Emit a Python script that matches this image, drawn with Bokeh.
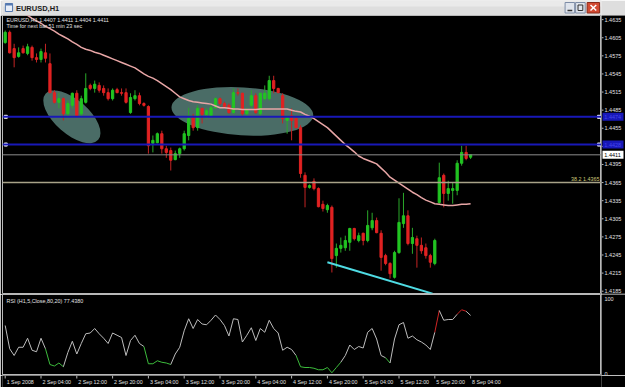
from bokeh.plotting import figure
from bokeh.layouts import column, row
from bokeh.models import Range1d, Span, Label
from bokeh.embed import file_html
from bokeh.resources import INLINE
from bokeh.core.properties import value

FONT = "Liberation Sans"

# ------------------------------------------------------------------ data
symbol = "EURUSD,H1"
time_ticks = [0, 8, 16, 24, 32, 40, 48, 56, 64, 72, 80, 88, 96, 104]
time_labels = ["1 Sep 2008", "2 Sep 04:00", "2 Sep 12:00", "2 Sep 20:00",
               "3 Sep 04:00", "3 Sep 12:00", "3 Sep 20:00", "4 Sep 04:00",
               "4 Sep 12:00", "4 Sep 20:00", "5 Sep 04:00", "5 Sep 12:00",
               "5 Sep 20:00", "8 Sep 04:00"]
price_ticks = [1.4185, 1.4215, 1.4245, 1.4275, 1.4305, 1.4335, 1.4365, 1.4395,
               1.4425, 1.4455, 1.4485, 1.4515, 1.4545, 1.4575, 1.4605, 1.4635]
rsi_ticks = [0, 100]

opens = [
    1.4597, 1.4614, 1.4587, 1.4574, 1.4587, 1.4579, 1.4589, 1.4572, 1.4569, 1.4580,
    1.4562, 1.4514, 1.4498, 1.4504, 1.4479, 1.4493, 1.4513, 1.4479, 1.4498, 1.4526,
    1.4521, 1.4526, 1.4521, 1.4514, 1.4504, 1.4519, 1.4514, 1.4514, 1.4481, 1.4504,
    1.4509, 1.4496, 1.4491, 1.4430, 1.4431, 1.4446, 1.4421, 1.4418, 1.4403, 1.4413,
    1.4421, 1.4443, 1.4473, 1.4456, 1.4488, 1.4478, 1.4476, 1.4489, 1.4504, 1.4496,
    1.4493, 1.4481, 1.4514, 1.4513, 1.4479, 1.4493, 1.4509, 1.4479, 1.4504, 1.4504,
    1.4534, 1.4521, 1.4509, 1.4468, 1.4476, 1.4471, 1.4456, 1.4377, 1.4357, 1.4367,
    1.4355, 1.4329, 1.4320, 1.4324, 1.4244, 1.4256, 1.4257, 1.4266, 1.4289, 1.4269,
    1.4281, 1.4269, 1.4290, 1.4302, 1.4281, 1.4244, 1.4231, 1.4208, 1.4249, 1.4297,
    1.4310, 1.4264, 1.4272, 1.4261, 1.4257, 1.4244, 1.4231, 1.4332, 1.4377, 1.4347,
    1.4352, 1.4352, 1.4397, 1.4415, 1.4407]
highs = [
    1.4617, 1.4617, 1.4595, 1.4589, 1.4592, 1.4595, 1.4592, 1.4579, 1.4587, 1.4595,
    1.4579, 1.4518, 1.4514, 1.4506, 1.4501, 1.4514, 1.4518, 1.4509, 1.4546, 1.4529,
    1.4534, 1.4531, 1.4526, 1.4521, 1.4521, 1.4522, 1.4521, 1.4521, 1.4513, 1.4518,
    1.4514, 1.4498, 1.4493, 1.4443, 1.4448, 1.4451, 1.4426, 1.4423, 1.4418, 1.4423,
    1.4451, 1.4489, 1.4479, 1.4493, 1.4489, 1.4488, 1.4493, 1.4506, 1.4506, 1.4499,
    1.4496, 1.4521, 1.4521, 1.4514, 1.4489, 1.4518, 1.4513, 1.4514, 1.4526, 1.4542,
    1.4542, 1.4522, 1.4513, 1.4476, 1.4488, 1.4473, 1.4460, 1.4382, 1.4362, 1.4372,
    1.4357, 1.4335, 1.4330, 1.4327, 1.4264, 1.4274, 1.4277, 1.4290, 1.4290, 1.4282,
    1.4282, 1.4319, 1.4315, 1.4307, 1.4286, 1.4247, 1.4233, 1.4252, 1.4339, 1.4348,
    1.4319, 1.4290, 1.4277, 1.4274, 1.4264, 1.4247, 1.4272, 1.4398, 1.4380, 1.4368,
    1.4365, 1.4402, 1.4426, 1.4426, 1.4411]
lows = [
    1.4595, 1.4579, 1.4556, 1.4572, 1.4579, 1.4576, 1.4567, 1.4564, 1.4564, 1.4564,
    1.4513, 1.4496, 1.4488, 1.4468, 1.4473, 1.4488, 1.4473, 1.4473, 1.4496, 1.4518,
    1.4514, 1.4514, 1.4509, 1.4501, 1.4501, 1.4513, 1.4509, 1.4496, 1.4479, 1.4501,
    1.4493, 1.4491, 1.4413, 1.4415, 1.4430, 1.4413, 1.4406, 1.4385, 1.4402, 1.4406,
    1.4418, 1.4435, 1.4451, 1.4451, 1.4463, 1.4471, 1.4473, 1.4488, 1.4493, 1.4488,
    1.4479, 1.4479, 1.4509, 1.4476, 1.4476, 1.4489, 1.4479, 1.4476, 1.4501, 1.4501,
    1.4513, 1.4513, 1.4463, 1.4446, 1.4435, 1.4455, 1.4373, 1.4324, 1.4355, 1.4352,
    1.4324, 1.4317, 1.4315, 1.4216, 1.4224, 1.4249, 1.4252, 1.4252, 1.4269, 1.4266,
    1.4261, 1.4266, 1.4286, 1.4281, 1.4219, 1.4228, 1.4206, 1.4206, 1.4247, 1.4290,
    1.4261, 1.4247, 1.4224, 1.4247, 1.4239, 1.4224, 1.4228, 1.4330, 1.4324, 1.4335,
    1.4330, 1.4344, 1.4393, 1.4402, 1.4404]
closes = [
    1.4614, 1.4580, 1.4572, 1.4580, 1.4580, 1.4590, 1.4572, 1.4569, 1.4582, 1.4571,
    1.4514, 1.4498, 1.4504, 1.4479, 1.4496, 1.4513, 1.4476, 1.4504, 1.4521, 1.4521,
    1.4528, 1.4518, 1.4514, 1.4504, 1.4518, 1.4514, 1.4513, 1.4498, 1.4506, 1.4509,
    1.4496, 1.4493, 1.4426, 1.4435, 1.4446, 1.4421, 1.4415, 1.4402, 1.4413, 1.4421,
    1.4446, 1.4471, 1.4456, 1.4488, 1.4478, 1.4484, 1.4489, 1.4504, 1.4496, 1.4491,
    1.4481, 1.4514, 1.4513, 1.4479, 1.4486, 1.4509, 1.4481, 1.4513, 1.4513, 1.4534,
    1.4521, 1.4514, 1.4471, 1.4473, 1.4468, 1.4456, 1.4380, 1.4357, 1.4360, 1.4355,
    1.4325, 1.4322, 1.4327, 1.4239, 1.4256, 1.4261, 1.4269, 1.4289, 1.4272, 1.4277,
    1.4269, 1.4294, 1.4302, 1.4282, 1.4241, 1.4231, 1.4214, 1.4249, 1.4299, 1.4310,
    1.4264, 1.4274, 1.4261, 1.4252, 1.4244, 1.4233, 1.4269, 1.4373, 1.4347, 1.4355,
    1.4355, 1.4397, 1.4415, 1.4405, 1.4411]
ma_values = [
    1.4663, 1.4659, 1.4654, 1.4650, 1.4646, 1.4642, 1.4637, 1.4633, 1.4629, 1.4624,
    1.4620, 1.4616, 1.4611, 1.4607, 1.4603, 1.4598, 1.4594, 1.4589, 1.4586, 1.4584,
    1.4581, 1.4579, 1.4576, 1.4573, 1.4570, 1.4567, 1.4564, 1.4561, 1.4558, 1.4555,
    1.4550, 1.4545, 1.4541, 1.4538, 1.4534, 1.4529, 1.4524, 1.4519, 1.4513, 1.4507,
    1.4504, 1.4501, 1.4499, 1.4498, 1.4497, 1.4496, 1.4495, 1.4492, 1.4489, 1.4489,
    1.4488, 1.4487, 1.4487, 1.4486, 1.4486, 1.4486, 1.4486, 1.4487, 1.4487, 1.4487,
    1.4487, 1.4487, 1.4487, 1.4487, 1.4485, 1.4483, 1.4482, 1.4478, 1.4475, 1.4471,
    1.4466, 1.4461, 1.4456, 1.4449, 1.4442, 1.4435, 1.4428, 1.4422, 1.4416, 1.4409,
    1.4405, 1.4402, 1.4399, 1.4396, 1.4389, 1.4382, 1.4374, 1.4369, 1.4364, 1.4359,
    1.4354, 1.4349, 1.4345, 1.4340, 1.4336, 1.4333, 1.4330, 1.4329, 1.4328, 1.4327,
    1.4327, 1.4328, 1.4329, 1.4329, 1.4330]
rsi_values = [
    64, 33, 24, 35, 35, 47, 31, 29, 47, 33,
    12, 10, 14, 9, 28, 43, 26, 40, 53, 54,
    60, 53, 47, 40, 54, 51, 48, 24, 44, 51,
    40, 36, 13, 13, 17, 15, 14, 12, 26, 35,
    57, 73, 60, 72, 66, 65, 71, 78, 72, 64,
    50, 73, 72, 42, 51, 61, 44, 60, 55, 71,
    60, 54, 31, 35, 32, 24, 9, 8, 8, 7,
    5, 5, 8, 1, 8, 15, 24, 38, 32, 36,
    34, 55, 60, 46, 24, 21, 14, 46, 65, 68,
    47, 50, 45, 42, 38, 32, 55, 84, 71, 72,
    72, 79, 85, 83, 77.438]
rsi_levels = [80, 20]

blue_levels = [1.4474, 1.4428]
bid_price = 1.4411
fib_ratio = "38.2"
fib_level = 1.4365
trend_x = [72, 95.5]
trend_y = [1.4233, 1.4181]
zone_x = [14.9, 53.0]
zone_y = [1.4474, 1.4483]

# ------------------------------------------------ pixel helpers (layout only)
def bar_at(px):
    return (px - 4.7) / 4.475

def price_at(py):
    return 1.46667 - 0.0001657 * py

def rsi_at(py):
    return (373.0 - py) / 0.75

bars = list(range(len(opens)))
BULL, BEAR = "#22c422", "#e02222"
BULL_W, BEAR_W = "#2aa82a", "#c42424"
AXIS_C = "#b8b8b8"
TXT_C = "#e2e2e2"
BLUE = "#1818b8"

x_range = Range1d(bar_at(2), bar_at(601))
y_price = Range1d(price_at(293), price_at(15))
y_rsi = Range1d(rsi_at(375), rsi_at(294))


def base_fig(w, h, xr, yr, **kw):
    f = figure(width=w, height=h, x_range=xr, y_range=yr, x_axis_location=None,
               y_axis_location=None, toolbar_location=None, output_backend="svg",
               background_fill_color="black", border_fill_color="black", **kw)
    f.grid.visible = False
    return f


# ------------------------------------------------------------- title bar
tb = figure(width=625, height=15, x_range=(0, 625), y_range=Range1d(15, 0),
            x_axis_location=None, y_axis_location=None, toolbar_location=None,
            output_backend="svg", min_border=0, background_fill_color="#dedede",
            border_fill_color="#dedede", outline_line_color=None)
tb.grid.visible = False
tb.quad(left=[0], right=[625], top=[0], bottom=[6], fill_color="#eaeaea", line_color=None)
tb.quad(left=[3], right=[10.5], top=[3], bottom=[11], fill_color="#e8eef8",
        line_color="#5478b0", line_width=1)
tb.quad(left=[3], right=[10.5], top=[3], bottom=[5], fill_color="#5478b0", line_color=None)
tb.text(x=[14], y=[7.6], text=[symbol], text_font=value(FONT), text_font_size="7.5px",
        text_font_style="bold", text_baseline="middle", text_color="#1c1c1c")
tb.quad(left=[587, 598], right=[597, 608], top=[2, 2], bottom=[12.5, 12.5],
        fill_color="#dfe4ec", line_color="#7d8ca6", line_width=1)
tb.quad(left=[610], right=[623], top=[2], bottom=[12.5], fill_color="#d24a32",
        line_color="#8a2a1a", line_width=1)
tb.segment(x0=[589.5], y0=[10], x1=[594.5], y1=[10], line_color="#303030", line_width=1.5)
tb.quad(left=[600.5], right=[605.5], top=[4.5], bottom=[10], fill_color=None,
        line_color="#303030", line_width=1)
tb.segment(x0=[613.5, 613.5], y0=[4.5, 10], x1=[619.5, 619.5], y1=[10, 4.5],
           line_color="white", line_width=1.5)

# ------------------------------------------------------------- main chart
p = base_fig(601, 279, x_range, y_price, min_border_left=2, min_border_right=0,
             min_border_top=0, min_border_bottom=1, outline_line_color=AXIS_C)

p.ellipse(x=zone_x, y=zone_y, width=[70, 142], height=[34, 48], angle=[-0.72, -0.06],
          width_units="screen", height_units="screen", fill_color="#4a6c66",
          line_color=None)

up = [c >= o for o, c in zip(opens, closes)]
wick_c = [BULL_W if u else BEAR_W for u in up]
body_c = [BULL if u else BEAR for u in up]
tops = [max(o, c) for o, c in zip(opens, closes)]
bots = [min(o, c) for o, c in zip(opens, closes)]
p.segment(x0=bars, y0=highs, x1=bars, y1=lows, line_color=wick_c, line_width=1)
p.vbar(x=bars, top=tops, bottom=bots, width=0.5, fill_color=body_c, line_color=body_c,
       line_width=1)

p.line(bars, ma_values, line_color="#e8a6a6", line_width=1.5)
p.line(trend_x, trend_y, line_color="#4fdce4", line_width=2)

for b in blue_levels:
    p.add_layout(Span(location=b, dimension="width", line_color=BLUE, line_width=2))
p.add_layout(Span(location=bid_price, dimension="width", line_color="#8c8c8c", line_width=1))
p.add_layout(Span(location=fib_level, dimension="width", line_color="#a8a288", line_width=1.5))

p.scatter(x=[bar_at(5.3), bar_at(598.5)] * 2,
          y=[blue_levels[0], blue_levels[0], blue_levels[1], blue_levels[1]],
          marker="square", size=3, fill_color="white", line_color="white")

hdr = f"{symbol} {opens[-1]:.4f} {highs[-1]:.4f} {lows[-1]:.4f} {closes[-1]:.4f}"
p.add_layout(Label(x=bar_at(6), y=price_at(19.8), text=hdr, text_font=FONT,
                   text_font_size="5.4px", text_color=TXT_C, text_baseline="middle"))
p.add_layout(Label(x=bar_at(6), y=price_at(25.2), text="Time for next bar 51 min 23 sec",
                   text_font=FONT, text_font_size="5.4px", text_color=TXT_C,
                   text_baseline="middle"))
p.add_layout(Label(x=bar_at(599), y=price_at(178.2), text=f"{fib_ratio} {fib_level:.4f}",
                   text_font=FONT, text_font_size="5.4px", text_color="#cfc878",
                   text_align="right", text_baseline="middle"))

# ------------------------------------------------------------- price scale
pa = base_fig(24, 279, Range1d(0, 24), y_price, min_border_left=0, min_border_right=0,
              min_border_top=0, min_border_bottom=1, outline_line_color=None)
n = len(price_ticks)
pa.segment(x0=[0] * n, y0=price_ticks, x1=[2] * n, y1=price_ticks, line_color=AXIS_C,
           line_width=1)
pa.text(x=[3] * n, y=price_ticks, text=[f"{t:.4f}" for t in price_ticks],
        text_font=value(FONT), text_font_size="5.5px", text_baseline="middle",
        text_color=TXT_C)
box_y = blue_levels + [bid_price]
pa.rect(x=[11.5] * 3, y=box_y, width=21, height=8, height_units="screen",
        fill_color=[BLUE, BLUE, "white"], line_color=None)
pa.text(x=[2.8] * 3, y=box_y, text=[f"{v:.4f}" for v in box_y], text_font=value(FONT),
        text_font_size="5.5px", text_baseline="middle",
        text_color=["#4646ea", "#4646ea", "black"])

# ------------------------------------------------------------- RSI panel
r = base_fig(601, 81, x_range, y_rsi, min_border_left=2, min_border_right=0,
             min_border_top=0, min_border_bottom=0, outline_line_color=AXIS_C)
seg_c = []
for v in rsi_values[1:]:
    if v > rsi_levels[0]:
        seg_c.append("#d02424")
    elif v < rsi_levels[1]:
        seg_c.append("#3cbc3c")
    else:
        seg_c.append("#bdbdbd")
r.segment(x0=bars[:-1], y0=rsi_values[:-1], x1=bars[1:], y1=rsi_values[1:],
          line_color=seg_c, line_width=1)
r.add_layout(Label(x=bar_at(6), y=rsi_at(300.5),
                   text=f"RSI (H1,5,Close,80,20) {rsi_values[-1]:.4f}", text_font=FONT,
                   text_font_size="5.4px", text_color=TXT_C, text_baseline="middle"))

ra = base_fig(24, 81, Range1d(0, 24), y_rsi, min_border_left=0, min_border_right=0,
              min_border_top=0, min_border_bottom=0, outline_line_color=None)
ra.text(x=[3, 3], y=rsi_ticks, text=[str(t) for t in rsi_ticks], text_font=value(FONT),
        text_font_size="5.5px", text_baseline="middle", text_color=TXT_C)

# ------------------------------------------------------------- time scale
ts = base_fig(625, 12, x_range, Range1d(12, 0), min_border_left=2, min_border_right=24,
              min_border_top=0, min_border_bottom=0, outline_line_color=None)
m = len(time_ticks)
ts.segment(x0=time_ticks, y0=[0] * m, x1=time_ticks, y1=[3] * m, line_color=AXIS_C,
           line_width=1)
ts.text(x=time_ticks, y=[6.8] * m, text=time_labels, x_offset=1.5, text_font=value(FONT),
        text_font_size="5.3px", text_align="left", text_baseline="middle",
        text_color=TXT_C)

layout = column(tb, row(p, pa, spacing=0), row(r, ra, spacing=0), ts, spacing=0)
open("out.html", "w").write(file_html(layout, INLINE))
